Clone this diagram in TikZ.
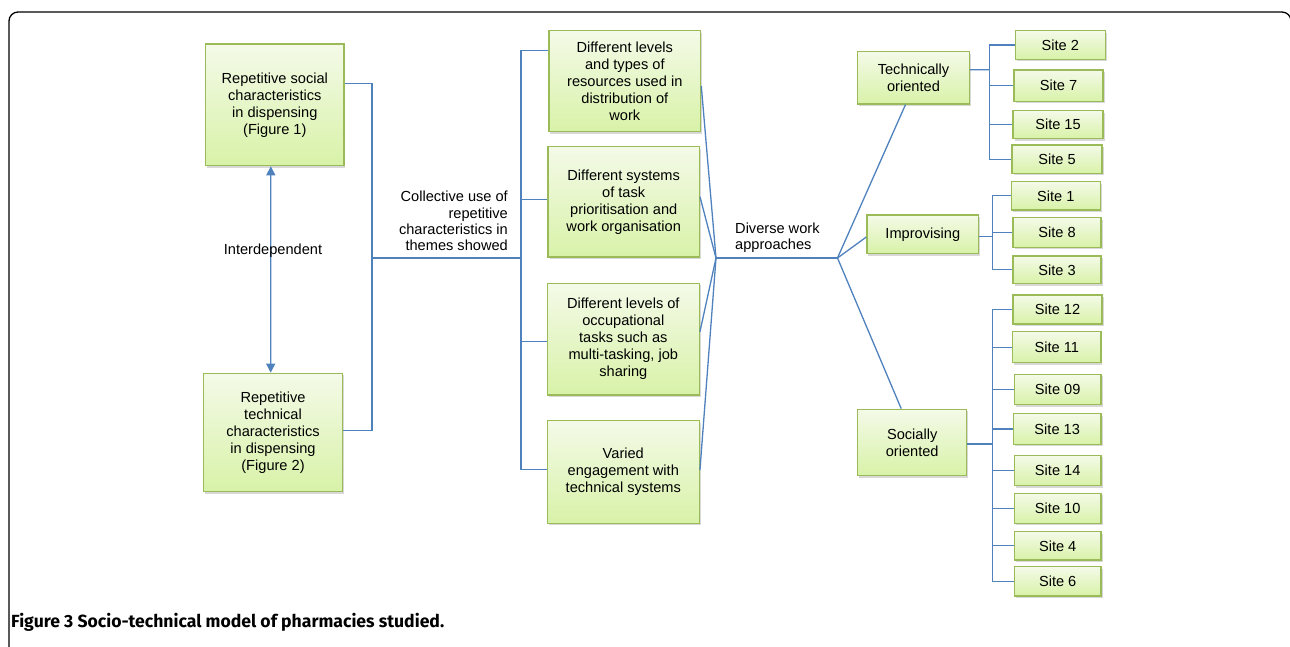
\documentclass[tikz,border=0pt]{standalone}
\usepackage{fontspec}
\setmainfont{Liberation Sans}
\newfontfamily\capfont{Fira Sans}
\usetikzlibrary{shadows,arrows.meta,calc}
\definecolor{lineblue}{RGB}{79,129,189}
\definecolor{boxedge}{RGB}{155,187,89}
\definecolor{boxtop}{RGB}{244,250,232}
\definecolor{boxbot}{RGB}{216,242,168}
\tikzset{
 gbox/.style={draw=boxedge, line width=1.3pt, top color=boxtop, bottom color=boxbot,
   drop shadow={shadow xshift=1.5pt, shadow yshift=-2pt, opacity=0.22, fill=black!70},
   align=center, inner sep=0pt, font=\fontsize{14.6}{17}\selectfont},
 site/.style={gbox, minimum width=89pt, minimum height=29.5pt},
 conn/.style={draw=lineblue, line width=1.3pt},
 lbl/.style={inner sep=0pt, font=\fontsize{14.6}{16.3}\selectfont},
}
\begin{document}
\begin{tikzpicture}[x=1pt,y=-1pt]
\useasboundingbox (0,0) rectangle (1290,646);
% frame
\draw[line width=1.3pt, rounded corners=9pt] (9,670) -- (9,12) -- (1291,12) -- (1291,670);
% left boxes
\node[gbox, minimum width=138.3pt, minimum height=121.7pt] (L1) at (274.8,104.8) {Repetitive social\\characteristics\\in dispensing\\(Figure 1)};
\node[gbox, minimum width=139.4pt, minimum height=118.4pt] (L2) at (273,432.5) {Repetitive\\technical\\characteristics\\in dispensing\\(Figure 2)};
% middle boxes
\node[gbox, minimum width=151.7pt, minimum height=101pt] (MA) at (624.8,81.2) {Different levels\\and types of\\resources used in\\distribution of\\work};
\node[gbox, minimum width=151.3pt, minimum height=110.3pt] (MB) at (623.7,201.8) {Different systems\\of task\\prioritisation and\\work organisation};
\node[gbox, minimum width=152pt, minimum height=111.7pt] (MC) at (623.3,339.2) {Different levels of\\occupational\\tasks such as\\multi-tasking, job\\sharing};
\node[gbox, minimum width=152pt, minimum height=102.7pt] (MD) at (623.3,472) {Varied\\engagement with\\technical systems};
% approach boxes
\node[gbox, minimum width=111.6pt, minimum height=52.3pt] (T) at (913.5,77.8) {Technically\\oriented};
\node[gbox, minimum width=111.7pt, minimum height=38.7pt] (I) at (922.8,234.3) {Improvising};
\node[gbox, minimum width=109pt, minimum height=66.4pt] (S) at (912.2,442.5) {Socially\\oriented};
% sites
\node[site, minimum width=90pt, minimum height=28.6pt] (s2) at (1060.3,45) {Site 2};
\node[site, minimum height=31.3pt] (s7) at (1058.5,85.7) {Site 7};
\node[site, minimum width=90pt, minimum height=28pt] (s15) at (1058,124.7) {Site 15};
\node[site, minimum width=90pt, minimum height=28.3pt] (s5) at (1057,159.2) {Site 5};
\node[site, minimum height=28.3pt] (s1) at (1055.8,195.8) {Site 1};
\node[site, minimum width=88pt] (s8) at (1057,232.5) {Site 8};
\node[site, minimum width=88pt, minimum height=27.7pt] (s3) at (1057,269.8) {Site 3};
\node[site, minimum height=29pt] (s12) at (1057.5,309.5) {Site 12};
\node[site, minimum width=88.3pt, minimum height=31pt] (s11) at (1056.8,347.2) {Site 11};
\node[site, minimum width=86.7pt, minimum height=30.4pt] (s09) at (1057.7,389.5) {Site 09};
\node[site, minimum width=87.7pt, minimum height=30.6pt] (s13) at (1057.2,429) {Site 13};
\node[site, minimum width=86.7pt, minimum height=30.4pt] (s14) at (1057.7,470.5) {Site 14};
\node[site, minimum width=86.7pt, minimum height=30pt] (s10) at (1057.7,508.3) {Site 10};
\node[site, minimum width=86.7pt, minimum height=28.3pt] (s4) at (1057.7,545.8) {Site 4};
\node[site, minimum width=86.7pt, minimum height=29.3pt] (s6) at (1057.7,581.3) {Site 6};
% junctions
\coordinate (j1) at (372,258);
\coordinate (j2) at (521,258);
\coordinate (j3) at (716,258);
\coordinate (j4) at (837.5,258);
\coordinate (jt) at (989.3,69.7);
\coordinate (ji) at (992.3,236.3);
\coordinate (js) at (992.7,444);
% connectors
\draw[conn] ($(L1.east)+(0,-21)$) -| (j1);
\draw[conn] ($(L2.east)+(0,-2)$) -| (j1);
\draw[conn] (j1) -- (j2);
\draw[conn] (j2) |- ($(MA.west)+(0,-30.5)$);
\draw[conn] (j2) |- ($(MB.west)+(0,-2)$);
\draw[conn] (j2) |- ($(MC.west)+(0,2)$);
\draw[conn] (j2) |- ($(MD.west)+(0,-2.5)$);
\draw[conn] ($(MA.east)+(0,5)$) -- (j3);
\draw[conn] ($(MB.east)+(0,-5)$) -- (j3);
\draw[conn] ($(MC.east)+(0,-7.5)$) -- (j3);
\draw[conn] ($(MD.east)+(0,-2)$) -- (j3);
\draw[conn] (j3) -- (j4);
\draw[conn] (j4) -- ($(T.south)+(-8,0)$);
\draw[conn] (j4) -- ($(I.west)+(0,2.7)$);
\draw[conn] (j4) -- ($(S.north)+(-11,0)$);
\draw[conn] ($(T.east)+(0,-8)$) -- (jt);
\foreach \s in {s2,s7,s15,s5} \draw[conn] (jt) |- (\s.west);
\draw[conn] ($(I.east)+(0,2)$) -- (ji);
\foreach \s in {s1,s8,s3} \draw[conn] (ji) |- (\s.west);
\draw[conn] ($(S.east)+(0,1.5)$) -- (js);
\foreach \s in {s12,s11,s09,s13,s14,s10,s4,s6} \draw[conn] (js) |- (\s.west);
% interdependence arrow
\draw[conn, {Triangle[width=9pt,length=9pt]}-{Triangle[width=9pt,length=9pt]}, fill=lineblue] ($(L1.south)+(-4,0)$) -- ($(L2.north)+(-2.3,0)$);
% labels
\node[lbl] (lint) at (273,251) {Interdependent};
\node[lbl, align=right, anchor=east] (lcol) at (508,221) {Collective use of\\repetitive\\characteristics in\\themes showed};
\node[lbl, align=left, anchor=west] (ldiv) at (735,238) {Diverse work\\approaches};
% caption
\node[anchor=base west, inner sep=0pt, font=\capfont\bfseries\fontsize{17.6}{20}\selectfont] (cap) at (11,627) {Figure 3 Socio-technical model of pharmacies studied.};
\end{tikzpicture}
\end{document}
